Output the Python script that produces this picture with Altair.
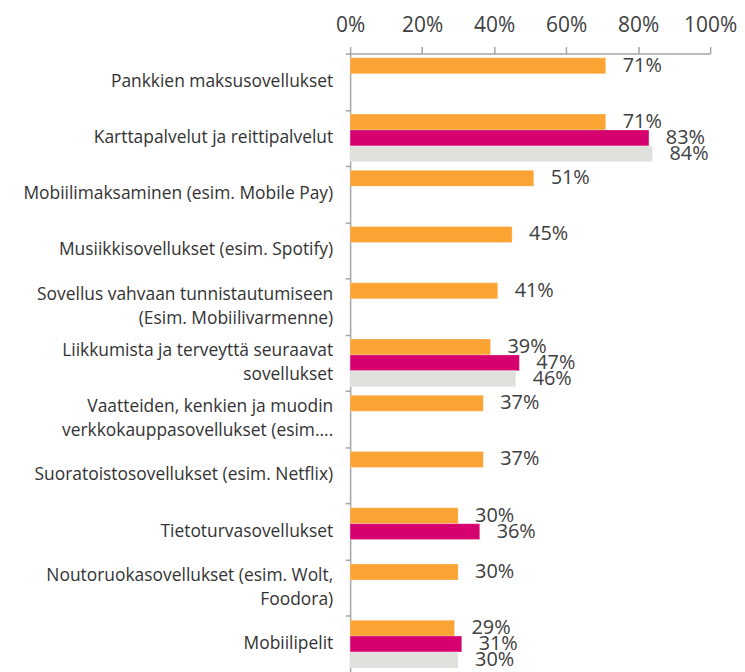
import altair as alt
import pandas as pd

categories = [
    "Pankkien maksusovellukset",
    "Karttapalvelut ja reittipalvelut",
    "Mobiilimaksaminen (esim. Mobile Pay)",
    "Musiikkisovellukset (esim. Spotify)",
    "Sovellus vahvaan tunnistautumiseen|(Esim. Mobiilivarmenne)",
    "Liikkumista ja terveyttä seuraavat|sovellukset",
    "Vaatteiden, kenkien ja muodin|verkkokauppasovellukset (esim....",
    "Suoratoistosovellukset (esim. Netflix)",
    "Tietoturvasovellukset",
    "Noutoruokasovellukset (esim. Wolt,|Foodora)",
    "Mobiilipelit",
]
series_names = ["Sarja 1", "Sarja 2", "Sarja 3"]
series_1 = [71, 71, 51, 45, 41, 39, 37, 37, 30, 30, 29]
series_2 = [None, 83, None, None, None, 47, None, None, 36, None, 31]
series_3 = [None, 84, None, None, None, 46, None, None, None, None, 30]
colors = ["#FBA434", "#D6006E", "#E0E0DC"]

rows = []
for name, vals in zip(series_names, [series_1, series_2, series_3]):
    for c, v in zip(categories, vals):
        if v is not None:
            rows.append({"cat": c, "series": name, "value": v / 100.0})
df = pd.DataFrame(rows)
cat_df = pd.DataFrame({"cat": categories})

FONT = "Open Sans"

y_enc = alt.Y(
    "cat:N",
    sort=categories,
    scale=alt.Scale(paddingInner=0, paddingOuter=0),
    axis=alt.Axis(
        title=None,
        labels=False,
        tickBand="extent",
        tickSize=5,
        tickColor="#A6A6A6",
        tickWidth=1.5,
        domainColor="#A6A6A6",
        domainWidth=1.5,
        minExtent=344,
        maxExtent=344,
    ),
)
yoff = alt.YOffset(
    "series:N",
    scale=alt.Scale(domain=series_names, paddingOuter=0.27, paddingInner=0),
)
x_enc = alt.X(
    "value:Q",
    scale=alt.Scale(domain=[0, 1]),
    axis=alt.Axis(
        orient="top",
        title=None,
        format="%",
        values=[0, 0.2, 0.4, 0.6, 0.8, 1.0],
        grid=False,
        labelFont=FONT,
        labelFontSize=21,
        labelColor="#404040",
        labelPadding=11,
        labelOverlap=False,
        labelFlush=False,
        tickSize=7,
        tickColor="#A6A6A6",
        tickWidth=1.5,
        domainColor="#A6A6A6",
        domainWidth=1.5,
        minExtent=44,
        maxExtent=44,
    ),
)

bars = alt.Chart(df).mark_bar(stroke="white", strokeWidth=0.5, strokeOpacity=0.5).encode(
    x=x_enc,
    y=y_enc,
    yOffset=yoff,
    color=alt.Color(
        "series:N",
        scale=alt.Scale(domain=series_names, range=colors),
        legend=None,
    ),
)

labels = alt.Chart(df).mark_text(
    align="left", baseline="middle", dx=17, font=FONT, fontSize=20, color="#404040"
).encode(
    x=alt.X("value:Q"),
    y=alt.Y("cat:N", sort=categories),
    yOffset=yoff,
    text=alt.Text("value:Q", format=".0%"),
)

cat_text_style = dict(
    align="right", baseline="middle", dx=-17, font=FONT, fontSize=17.5,
    color="#333333", lineBreak="|", lineHeight=24,
)
cat_single = alt.Chart(cat_df).transform_filter(
    "indexof(datum.cat, '|') < 0"
).mark_text(**cat_text_style).encode(
    x=alt.datum(0),
    y=alt.Y("cat:N", sort=categories),
    text="cat:N",
)
cat_multi = alt.Chart(cat_df).transform_filter(
    "indexof(datum.cat, '|') >= 0"
).mark_text(dy=-12, **cat_text_style).encode(
    x=alt.datum(0),
    y=alt.Y("cat:N", sort=categories),
    text="cat:N",
)

chart = (
    alt.layer(bars, labels, cat_single, cat_multi)
    .properties(width=362, height=622, padding=0)
    .configure_view(stroke=None)
)

chart.save("out.html", embed_options={"renderer": "svg", "actions": False})
